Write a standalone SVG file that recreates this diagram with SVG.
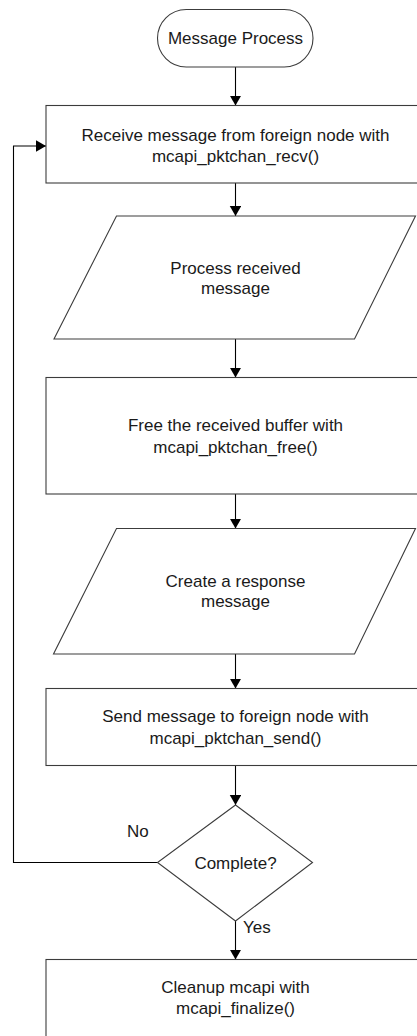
<svg xmlns="http://www.w3.org/2000/svg" width="417" height="1036" viewBox="0 0 417 1036">
  <style>
    .shape { fill: #ffffff; stroke: #3c3c3c; stroke-width: 1.1; }
    .edge { fill: none; stroke: #000000; stroke-width: 1.1; }
    .label { font-family: "Liberation Sans", Arial, sans-serif; font-size: 17px; fill: #1a1a1a; text-anchor: middle; }
    .tag { font-family: "Liberation Sans", Arial, sans-serif; font-size: 17px; fill: #1a1a1a; }
  </style>
  <defs>
    <marker id="arrow" markerUnits="userSpaceOnUse" markerWidth="11" markerHeight="12" refX="10" refY="5.75" orient="auto">
      <path d="M0,0 L10,5.75 L0,11.5 z" fill="#000000"/>
    </marker>
  </defs>
  <rect width="417" height="1036" fill="#ffffff"/>

  <!-- connectors -->
  <g id="connectors">
    <line class="edge" x1="235.5" y1="67" x2="235.5" y2="105.5" marker-end="url(#arrow)"/>
    <line class="edge" x1="235.5" y1="183" x2="235.5" y2="216" marker-end="url(#arrow)"/>
    <line class="edge" x1="235.5" y1="339" x2="235.5" y2="377.5" marker-end="url(#arrow)"/>
    <line class="edge" x1="235.5" y1="494" x2="235.5" y2="528.5" marker-end="url(#arrow)"/>
    <line class="edge" x1="235.5" y1="654" x2="235.5" y2="688.5" marker-end="url(#arrow)"/>
    <line class="edge" x1="235.5" y1="765.5" x2="235.5" y2="805" marker-end="url(#arrow)"/>
    <line class="edge" x1="235.5" y1="921" x2="235.5" y2="959.5" marker-end="url(#arrow)"/>
    <!-- "No" branch loops back to the receive step -->
    <path class="edge" d="M157.5,862.5 H13.5 V146 H46" marker-end="url(#arrow)"/>
    <text class="tag" x="127" y="836.5">No</text>
    <text class="tag" x="243" y="932.5">Yes</text>
  </g>

  <g id="start">
    <rect class="shape" x="157.5" y="9.5" width="155.5" height="57.5" rx="28.75" ry="28.75"/>
    <text class="label" x="235.5" y="44.3">Message Process</text>
  </g>

  <g id="receive">
    <rect class="shape" x="46" y="105.5" width="380" height="77.5"/>
    <text class="label" x="235.5" y="140.7">Receive message from foreign node with</text>
    <text class="label" x="235.5" y="161.7">mcapi_pktchan_recv()</text>
  </g>

  <g id="process">
    <polygon class="shape" points="116.5,216 415.5,216 354.5,339 54,339"/>
    <text class="label" x="235.5" y="273.7">Process received</text>
    <text class="label" x="235.5" y="293.5">message</text>
  </g>

  <g id="free">
    <rect class="shape" x="46" y="377.5" width="380" height="116.5"/>
    <text class="label" x="235.5" y="431">Free the received buffer with</text>
    <text class="label" x="235.5" y="452.5">mcapi_pktchan_free()</text>
  </g>

  <g id="create">
    <polygon class="shape" points="116.5,528.5 415.5,528.5 354.5,654 53.5,654"/>
    <text class="label" x="235.5" y="587.3">Create a response</text>
    <text class="label" x="235.5" y="607.3">message</text>
  </g>

  <g id="send">
    <rect class="shape" x="46" y="688.5" width="380" height="77"/>
    <text class="label" x="235.5" y="722.3">Send message to foreign node with</text>
    <text class="label" x="235.5" y="743.8">mcapi_pktchan_send()</text>
  </g>

  <g id="complete">
    <polygon class="shape" points="235.5,805 312.5,862.5 235.5,921 157.5,862.5"/>
    <text class="label" x="235.5" y="868.5">Complete?</text>
  </g>

  <g id="cleanup">
    <rect class="shape" x="46" y="959.5" width="380" height="100"/>
    <text class="label" x="235.5" y="992.7">Cleanup mcapi with</text>
    <text class="label" x="235.5" y="1014">mcapi_finalize()</text>
  </g>
</svg>
